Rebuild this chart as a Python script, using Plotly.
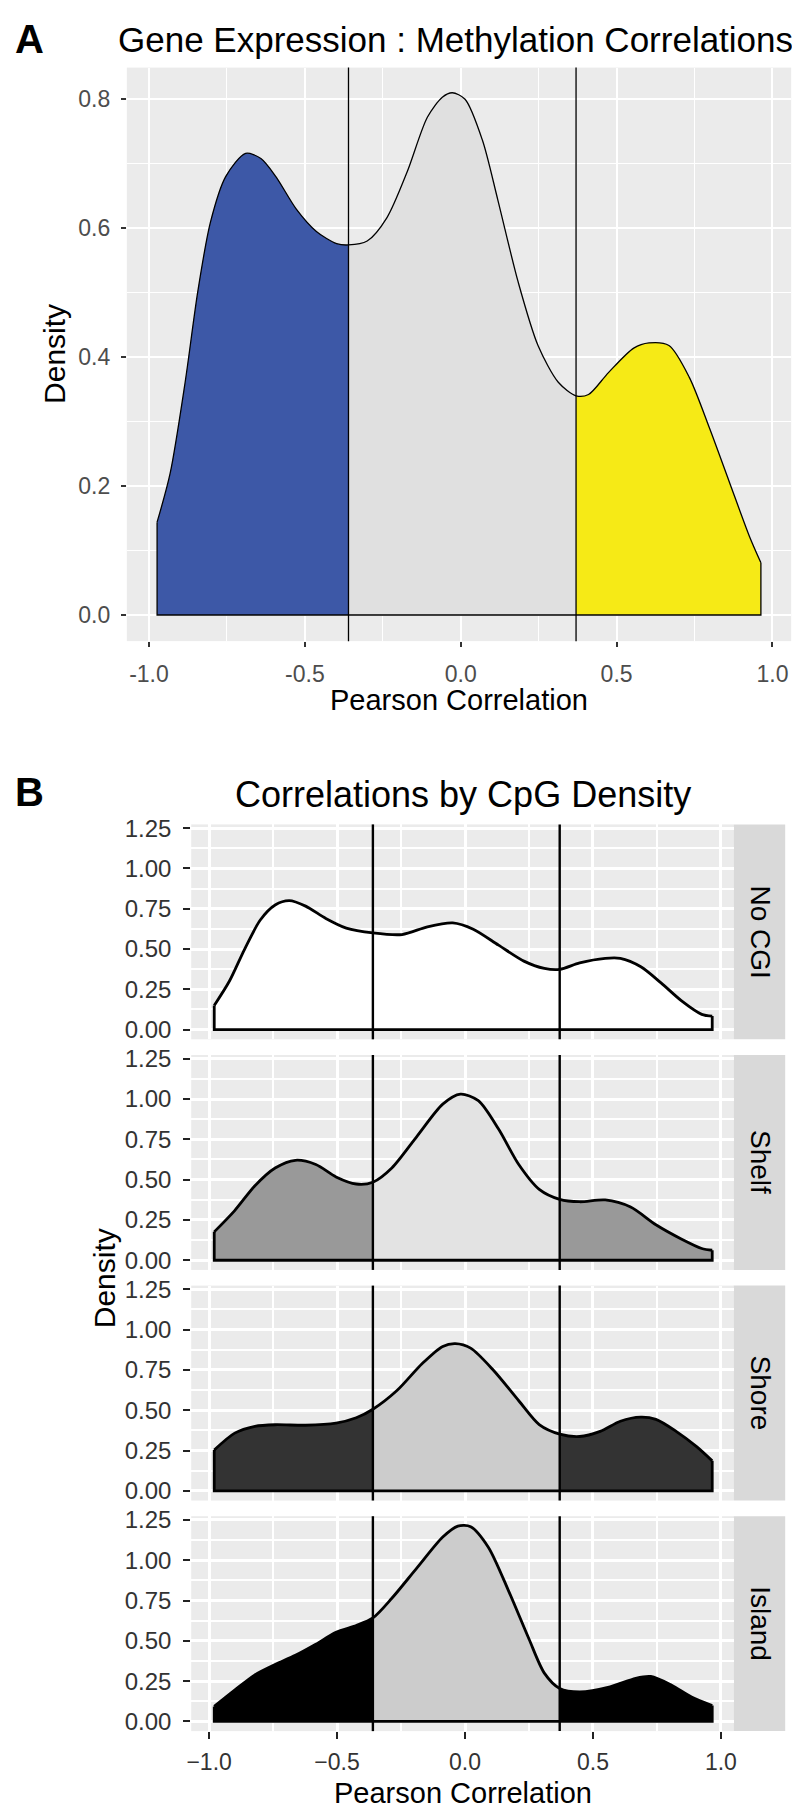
import plotly.graph_objects as go

W, H = 800, 1807
FONT = "Liberation Sans, Arial, sans-serif"

# thresholds (vertical lines)
LOW, HIGH = -0.36, 0.37

# ---------- Panel A data ----------
xA = [-0.974, -0.932, -0.884, -0.843, -0.803, -0.754, -0.69, -0.641, -0.593, -0.528, -0.463, -0.398,
      -0.36, -0.30, -0.237, -0.172, -0.107, -0.059, -0.027, 0.014, 0.07, 0.119, 0.184, 0.248, 0.313,
      0.37, 0.41, 0.474, 0.555, 0.604, 0.668, 0.733, 0.798, 0.862, 0.927, 0.963]
yA = [0.144, 0.22, 0.361, 0.503, 0.609, 0.68, 0.716, 0.708, 0.68, 0.63, 0.595, 0.576,
      0.574, 0.58, 0.616, 0.687, 0.772, 0.803, 0.81, 0.80, 0.736, 0.644, 0.517, 0.418, 0.361,
      0.34, 0.342, 0.376, 0.414, 0.422, 0.418, 0.369, 0.29, 0.206, 0.121, 0.081]
colorsA = ["#3D58A7", "#E0E0E0", "#F6EA16"]

# ---------- Panel B data ----------
facet_names = ["No CGI", "Shelf", "Shore", "Island"]
x_nocgi = [-0.98, -0.921, -0.861, -0.80, -0.742, -0.687, -0.623, -0.544, -0.464, -0.36, -0.246, -0.147,
           -0.048, 0.032, 0.131, 0.23, 0.31, 0.37, 0.448, 0.548, 0.607, 0.687, 0.766, 0.845, 0.925, 0.966]
y_nocgi = [0.15, 0.30, 0.50, 0.68, 0.773, 0.80, 0.766, 0.69, 0.63, 0.60, 0.59, 0.638,
           0.662, 0.623, 0.524, 0.425, 0.38, 0.374, 0.414, 0.442, 0.442, 0.39, 0.29, 0.18, 0.095, 0.084]
x_shelf = [-0.98, -0.90, -0.821, -0.742, -0.663, -0.583, -0.504, -0.425, -0.36, -0.286, -0.187, -0.087,
           -0.018, 0.052, 0.131, 0.21, 0.29, 0.37, 0.448, 0.548, 0.647, 0.746, 0.845, 0.925, 0.966]
y_shelf = [0.176, 0.308, 0.462, 0.572, 0.62, 0.594, 0.517, 0.473, 0.484, 0.572, 0.77, 0.968,
           1.03, 0.99, 0.814, 0.594, 0.44, 0.378, 0.363, 0.374, 0.33, 0.22, 0.132, 0.073, 0.062]
x_shore = [-0.98, -0.90, -0.821, -0.742, -0.623, -0.504, -0.425, -0.36, -0.266, -0.167, -0.087, -0.038,
           0.022, 0.111, 0.21, 0.29, 0.37, 0.448, 0.528, 0.607, 0.687, 0.746, 0.825, 0.905, 0.966]
y_shore = [0.253, 0.358, 0.40, 0.41, 0.407, 0.42, 0.453, 0.506, 0.622, 0.79, 0.896, 0.913,
           0.885, 0.748, 0.559, 0.411, 0.352, 0.337, 0.369, 0.432, 0.457, 0.443, 0.369, 0.274, 0.186]
x_island = [-0.98, -0.90, -0.821, -0.742, -0.663, -0.583, -0.504, -0.425, -0.36, -0.286, -0.187, -0.087,
            -0.028, 0.022, 0.091, 0.171, 0.25, 0.31, 0.37, 0.448, 0.567, 0.667, 0.726, 0.806, 0.885, 0.966]
y_island = [0.093, 0.194, 0.289, 0.353, 0.41, 0.479, 0.553, 0.595, 0.642, 0.764, 0.954, 1.144,
            1.212, 1.208, 1.081, 0.807, 0.511, 0.30, 0.205, 0.184, 0.215, 0.268, 0.279, 0.226, 0.152, 0.099]
facet_x = [x_nocgi, x_shelf, x_shore, x_island]
facet_y = [y_nocgi, y_shelf, y_shore, y_island]
facet_colors = [["#FFFFFF", "#FFFFFF", "#FFFFFF"],
                ["#999999", "#E3E3E3", "#999999"],
                ["#333333", "#CCCCCC", "#333333"],
                ["#000000", "#CCCCCC", "#000000"]]

# tick labels
xA_ticks = [-1.0, -0.5, 0.0, 0.5, 1.0]
xA_ticktext = ["-1.0", "-0.5", "0.0", "0.5", "1.0"]
yA_ticks = [0.0, 0.2, 0.4, 0.6, 0.8]
yA_ticktext = ["0.0", "0.2", "0.4", "0.6", "0.8"]
xB_ticktext = ["\u22121.0", "\u22120.5", "0.0", "0.5", "1.0"]
yB_ticks = [0.0, 0.25, 0.5, 0.75, 1.0, 1.25]
yB_ticktext = ["0.00", "0.25", "0.50", "0.75", "1.00", "1.25"]


def fx(px):
    return px / W


def fy(py):
    return 1 - py / H


fig = go.Figure()


def add_density(xs, ys, colors, xaxis, yaxis, lw):
    tol = 1e-9
    secs = [
        [(a, b) for a, b in zip(xs, ys) if a <= LOW + tol],
        [(a, b) for a, b in zip(xs, ys) if LOW - tol <= a <= HIGH + tol],
        [(a, b) for a, b in zip(xs, ys) if a >= HIGH - tol],
    ]
    for sec, col in zip(secs, colors):
        fig.add_trace(go.Scatter(
            x=[p[0] for p in sec], y=[p[1] for p in sec], xaxis=xaxis, yaxis=yaxis,
            mode="lines", line=dict(width=0, shape="spline", smoothing=0.8, color=col),
            fill="tozeroy", fillcolor=col, hoverinfo="skip"))
    fig.add_trace(go.Scatter(
        x=xs, y=ys, xaxis=xaxis, yaxis=yaxis, mode="lines",
        line=dict(width=lw, color="black", shape="spline", smoothing=0.8), hoverinfo="skip"))
    fig.add_trace(go.Scatter(
        x=[xs[-1], xs[-1], xs[0], xs[0]], y=[ys[-1], 0, 0, ys[0]], xaxis=xaxis, yaxis=yaxis,
        mode="lines", line=dict(width=lw, color="black"), hoverinfo="skip"))


add_density(xA, yA, colorsA, "x", "y", 1.3)

FACET_TOP0 = 812.7
FACET_STEP = 232.4
FACET_H = 216.6
for i in range(4):
    add_density(facet_x[i], facet_y[i], facet_colors[i], "x2", "y%d" % (i + 2), 2.8)

layout = dict(
    width=W, height=H, margin=dict(l=0, r=0, t=0, b=0),
    paper_bgcolor="white", plot_bgcolor="#EBEBEB", showlegend=False,
    font=dict(family=FONT, color="black"),
)

layout["xaxis"] = dict(
    domain=[fx(115), fx(786)], range=[-1.071, 1.06], anchor="y",
    tickmode="array", tickvals=xA_ticks, ticktext=xA_ticktext,
    ticks="outside", ticklen=5, tickwidth=1.5, tickcolor="#333333",
    tickfont=dict(size=23, color="#4D4D4D", family=FONT), ticklabelstandoff=7,
    showgrid=True, gridcolor="white", gridwidth=2.2, zeroline=False, showline=False,
    minor=dict(tickmode="array", tickvals=[-0.75, -0.25, 0.25, 0.75], showgrid=True,
               gridcolor="white", gridwidth=1.1, ticks=""),
)
layout["yaxis"] = dict(
    domain=[fy(628), fy(50)], range=[-0.0405, 0.849], anchor="x",
    tickmode="array", tickvals=yA_ticks, ticktext=yA_ticktext,
    ticks="outside", ticklen=5, tickwidth=1.5, tickcolor="#333333",
    tickfont=dict(size=23, color="#4D4D4D", family=FONT), ticklabelstandoff=6,
    showgrid=True, gridcolor="white", gridwidth=2.2, zeroline=False, showline=False,
    minor=dict(tickmode="array", tickvals=[0.1, 0.3, 0.5, 0.7], showgrid=True,
               gridcolor="white", gridwidth=1.1, ticks=""),
)
layout["xaxis2"] = dict(
    domain=[fx(180), fx(728)], range=[-1.07, 1.05], anchor="y5",
    tickmode="array", tickvals=xA_ticks, ticktext=xB_ticktext,
    ticks="outside", ticklen=7, tickwidth=2.4, tickcolor="#222222",
    tickfont=dict(size=23, color="#333333", family=FONT), ticklabelstandoff=3,
    showgrid=True, gridcolor="white", gridwidth=3, zeroline=False, showline=False,
    minor=dict(tickmode="array", tickvals=[-0.75, -0.25, 0.25, 0.75], showgrid=True,
               gridcolor="white", gridwidth=1.6, ticks=""),
)

shapes = []
annotations = []
for i in range(4):
    top = FACET_TOP0 + i * FACET_STEP
    bot = top + FACET_H
    layout["yaxis%d" % (i + 2)] = dict(
        domain=[fy(bot), fy(top)], range=[-0.06, 1.273], anchor="x2",
        tickmode="array", tickvals=yB_ticks, ticktext=yB_ticktext,
        ticks="outside", ticklen=7, tickwidth=2.4, tickcolor="#222222",
        tickfont=dict(size=24, color="#333333", family=FONT), ticklabelstandoff=7,
        showgrid=True, gridcolor="white", gridwidth=3, zeroline=False, showline=False,
        minor=dict(tickmode="array", tickvals=[0.125, 0.375, 0.625, 0.875, 1.125], showgrid=True,
                   gridcolor="white", gridwidth=1.6, ticks=""),
    )
    shapes.append(dict(type="rect", xref="paper", yref="paper", x0=fx(728), x1=fx(780),
                       y0=fy(bot), y1=fy(top), fillcolor="#D9D9D9", line=dict(width=0), layer="below"))
    annotations.append(dict(text=facet_names[i], xref="paper", yref="paper", x=fx(755),
                            y=fy((top + bot) / 2), showarrow=False, textangle=90,
                            font=dict(size=28, color="black", family=FONT),
                            xanchor="center", yanchor="middle"))
    for v in (LOW, HIGH):
        shapes.append(dict(type="line", xref="x2", yref="y%d domain" % (i + 2), x0=v, x1=v, y0=0, y1=1,
                           line=dict(color="black", width=2.4), layer="above"))

for v in (LOW, HIGH):
    shapes.append(dict(type="line", xref="x", yref="y domain", x0=v, x1=v, y0=0, y1=1,
                       line=dict(color="black", width=1.3), layer="above"))


def ann(text, x, y, size, angle=0, bold=False, xanchor="center"):
    annotations.append(dict(text=("<b>%s</b>" % text) if bold else text, xref="paper", yref="paper",
                            x=fx(x), y=fy(y), showarrow=False, textangle=angle,
                            xanchor=xanchor, yanchor="middle",
                            font=dict(size=size, color="black", family=FONT)))


ann("A", 0, 21, 40, bold=True, xanchor="left")
ann("Gene Expression : Methylation Correlations", 447, 22, 35)
ann("Pearson Correlation", 451, 687, 29)
ann("Density", 42, 339, 30, angle=-90)
ann("B", 0, 780, 40, bold=True, xanchor="left")
ann("Correlations by CpG Density", 455, 783, 36)
ann("Pearson Correlation", 455, 1789, 29)
ann("Density", 92, 1270, 30, angle=-90)

layout["shapes"] = shapes
layout["annotations"] = annotations
fig.update_layout(**layout)
fig.write_html("out.html")
